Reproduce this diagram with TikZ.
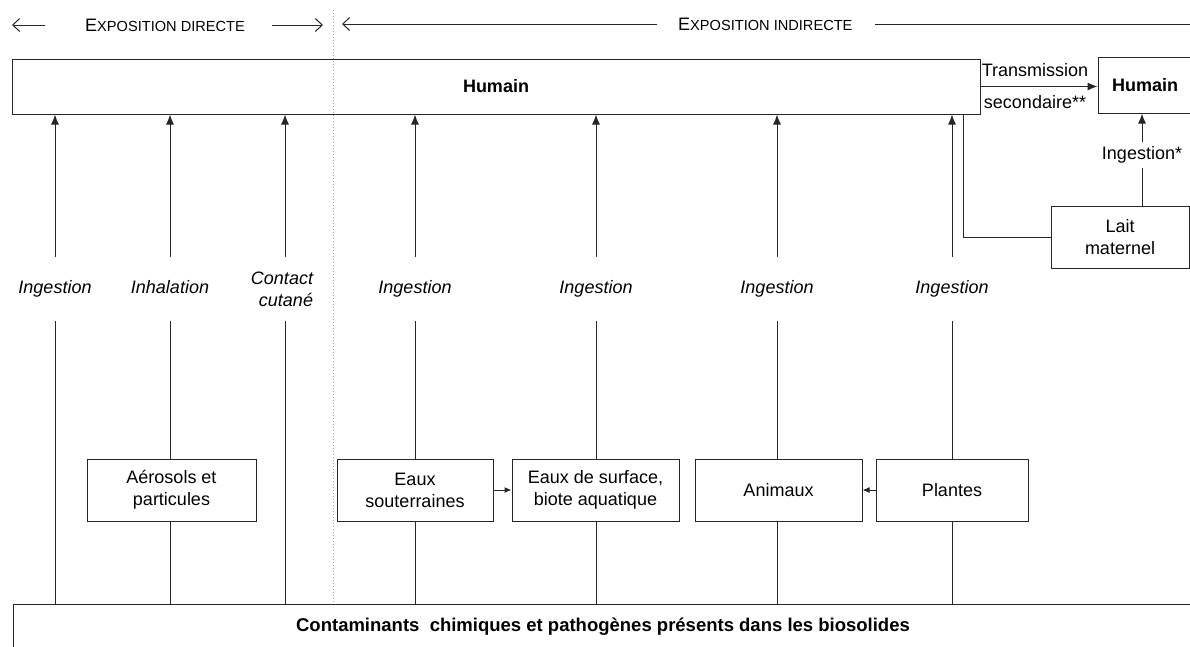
\documentclass[tikz,border=0pt]{standalone}
\usepackage{fontspec}
\setmainfont{Liberation Sans}
\usetikzlibrary{arrows.meta}
\newcommand\petit{\fontsize{14.6}{16}\selectfont}
\tikzset{
  boite/.style={draw=black!85, line width=1pt, inner sep=0pt, align=center,
    font=\fontsize{18}{22}\selectfont},
  voie/.style={font=\fontsize{18}{22}\selectfont\itshape, align=center,
    inner sep=0pt, minimum height=64pt},
  texte/.style={font=\fontsize{18}{22}\selectfont, inner sep=0pt},
  trait/.style={draw=black!85, line width=1pt},
  fleche/.style={trait, -{Latex[length=10pt,width=8pt]}},
  entete/.style={draw=black!85, line width=1pt, -{Straight Barb[length=7pt,width=13pt]}}
}
\begin{document}
\begin{tikzpicture}[x=1pt,y=-1pt]
\useasboundingbox (0,0) rectangle (1190,646);
% en-tete
\node[texte, anchor=west] (dir) at (85,25) {E{\petit XPOSITION DIRECTE}};
\node[texte, anchor=west] (indir) at (678,24) {E{\petit XPOSITION INDIRECTE}};
\coordinate (d0) at (12,25);   \coordinate (d1) at (45,25);
\coordinate (d2) at (272,25);  \coordinate (d3) at (323,25);
\coordinate (i0) at (342,24);  \coordinate (i1) at (657,24);
\coordinate (i2) at (875,24);  \coordinate (i3) at (1190,24);
\draw[entete] (d1) -- (d0);
\draw[entete] (d2) -- (d3);
\draw[entete] (i1) -- (i0);
\draw[trait] (i2) -- (i3);
\draw[gray!70, dotted, line width=1pt] (333,10) -- (333,604);
% boites
\node[boite, minimum width=968pt, minimum height=55pt, font=\fontsize{18}{22}\selectfont\bfseries] (hum) at (496,86.5) {Humain};
\node[boite, minimum width=94pt, minimum height=56pt, font=\fontsize{18}{22}\selectfont\bfseries] (hum2) at (1145,85) {Humain};
\node[boite, minimum width=1180pt, minimum height=46pt, font=\fontsize{18.5}{22}\selectfont\bfseries] (src) at (603,627) {Contaminants\ \ chimiques et pathogènes présents dans les biosolides};
\node[boite, minimum width=169pt, minimum height=62pt] (aer) at (171.5,490) {Aérosols et\\particules};
\node[boite, minimum width=156pt, minimum height=62pt] (esou) at (415,490) {Eaux\\souterraines};
\node[boite, minimum width=167pt, minimum height=62pt] (esurf) at (595.5,490) {Eaux de surface,\\biote aquatique};
\node[boite, minimum width=167pt, minimum height=62pt] (anim) at (778.5,490) {Animaux};
\node[boite, minimum width=152pt, minimum height=62pt] (plan) at (952,490) {Plantes};
\node[boite, minimum width=138pt, minimum height=62pt] (lait) at (1120,237) {Lait\\maternel};
% voies d'exposition
\node[voie, align=right] (v3) at (282,289) {Contact\\cutané};
\foreach \x/\t/\n in {55/Ingestion/v1, 170/Inhalation/v2, 415/Ingestion/v4,
    596/Ingestion/v5, 777/Ingestion/v6, 952/Ingestion/v7}
  \node[voie, text height=13pt, text depth=4pt] (\n) at (\x,289) {\t};
\foreach \n/\x in {v1/55, v2/170, v3/285, v4/415, v5/596, v6/777, v7/952}
  \draw[fleche] (\n.north -| \x,0) -- (\x,0 |- hum.south);
% vers la source
\foreach \n/\x in {v1/55, v3/285}
  \draw[trait] (\n.south -| \x,0) -- (\x,0 |- src.north);
\foreach \n/\x/\b in {v2/170/aer, v4/415/esou, v5/596/esurf, v6/777/anim, v7/952/plan}{
  \draw[trait] (\n.south -| \x,0) -- (\x,0 |- \b.north);
  \draw[trait] (\x,0 |- \b.south) -- (\x,0 |- src.north);
}
\draw[fleche, -{Latex[length=7pt,width=6pt]}] (esou) -- (esurf);
\draw[fleche, -{Latex[length=7pt,width=6pt]}] (plan) -- (anim);
% transmission secondaire
\node[texte] (ts1) at (1035,70) {Transmission};
\node[texte] (ts2) at (1035,102) {secondaire**};
\draw[fleche] (hum.east) -- (hum.east -| hum2.west);
\coordinate (tm) at (963,114);
\draw[trait] (tm) |- (lait.west);
\node[texte, minimum height=26pt] (ing) at (1142,155) {Ingestion*};
\draw[trait] (ing.south) -- (ing.south |- lait.north);
\draw[fleche] (ing.north) -- (ing.north |- hum2.south);
\end{tikzpicture}
\end{document}
